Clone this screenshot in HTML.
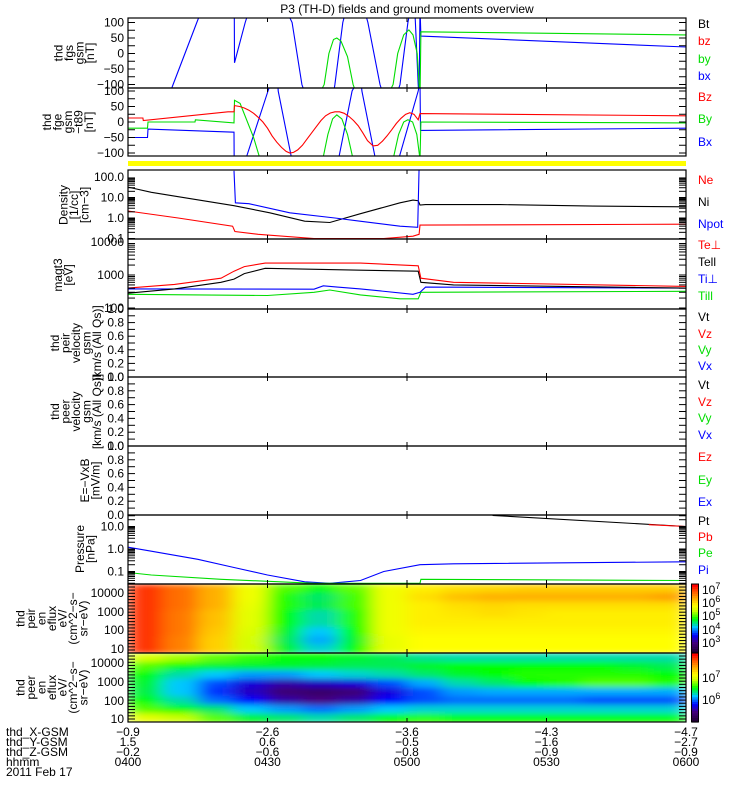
<!DOCTYPE html>
<html><head><meta charset="utf-8"><style>
body{margin:0;background:#fff;width:750px;height:800px;overflow:hidden}
svg{display:block}
text{font-family:"Liberation Sans",sans-serif;font-size:12px}
</style></head><body>
<svg id="chart" width="750" height="800" viewBox="0 0 750 800" xmlns="http://www.w3.org/2000/svg">
<defs>
<filter id="smooth" x="0" y="0" width="1" height="1"><feGaussianBlur stdDeviation="9 3" edgeMode="duplicate"/></filter>
</defs>
<text x="407" y="13" text-anchor="middle">P3 (TH-D) fields and ground moments overview</text>
</svg>
<script>
// ---------- DATA ----------
const fgsT=[0,4.7,9.7,14.8,18.7,22.8,22.9,25.2,28.4,30.5,35.3,37.4,40.9,43.4,44.5,46.2,48.8,51.6,54.2,56.3,58.5,60.2,61.5,62.4,62.6,62.8,63,120];
const fgsBx=[-500,-300,-100,100,250,350,-30,100,250,250,100,-100,-250,-200,-100,100,250,100,-100,-200,-100,100,200,-100,-150,150,56,21];
const fgsByT=[0,37,42.2,43.2,44.2,44.9,45.8,47.2,48.4,52,57,58,59.3,60.4,61.3,62.2,62.6,62.8,63,120];
const fgsBy=[-300,-250,-100,0,45,50,40,-10,-100,-250,-100,0,60,76,60,0,-100,-150,70,60];
const fgeBzT=[0,3.2,3.3,21.5,22.8,22.9,24,25,26,27,28,29,30,31,32,33,34,34.8,35.6,36.5,37.5,38.5,39.5,40.5,41.5,42.5,43.5,44.5,45.5,46.5,47.5,48.5,49.5,50.5,51.5,52.7,53.7,54.7,55.7,56.7,57.7,58.7,59.7,60.6,61.5,62.4,62.8,120];
const fgeBz=[13,13,5,33,33,53,50,45,38,28,15,0,-20,-45,-65,-82,-95,-100,-98,-90,-75,-55,-35,-15,5,20,29,33,33,28,18,5,-12,-35,-60,-77,-75,-62,-45,-25,-5,12,25,30,25,7,27,20];
const fgeByT=[0,4.2,4.3,14.4,14.5,22.8,22.9,24.1,27,29,41.9,43,44,44.9,46,47.2,48.4,57,58.2,59.3,60.2,61.2,62.1,62.8,63,120];
const fgeBy=[-20,-20,0,0,7,-3,70,60,-50,-150,-120,-40,10,23,10,-40,-120,-120,-40,0,7,0,-40,-120,0,-3];
const fgeBxT=[0,4.2,4.3,22.8,22.9,25.2,30.1,32,32.3,35.3,38,45.2,48.2,50,50.3,53.3,56,58.1,62.4,62.8,62.9,120];
const fgeBx=[-50,-50,-23,-33,-300,-125,100,180,100,-125,-250,-125,100,150,100,-125,-200,-125,100,130,-27,-20];
const niT=[0,5,10.8,22.8,30.5,38,43.4,49.9,58.5,61.3,62.4,62.8,64,80,100,120];
const niV=[32,18,11,4,1.8,0.7,0.6,1.6,5.5,7.5,7,4.3,4.5,4.5,3.8,3.5];
const neT=[0,10.8,22.5,23,28,40,55,61.3,62.6,62.8,120];
const neV=[2.2,1.0,0.4,0.22,0.16,0.1,0.1,0.13,0.16,0.45,0.5];
const npT=[22.8,23.1,26,34.8,44.5,49.9,58.5,62.3,62.6];
const npV=[200,5.5,5,1.8,1.0,0.7,0.4,0.35,300];
const teprT=[0,10,20,22.8,25,29.5,50,62.4,63,70,120];
const tepr=[400,520,800,1300,1800,2300,2300,1900,800,600,450];
const tepaT=[0,10,20,22.8,25,29.5,50,62.4,63,70,120];
const tepa=[280,380,600,750,1100,1600,1400,1300,600,500,400];
const tiprT=[0,40,42,45,50,61.3,62.8,64,120];
const tipr=[380,370,470,430,380,260,300,430,400];
const tipaT=[0,30,40,43.4,50,58.5,62.4,63,120];
const tipa=[260,240,300,350,250,190,190,300,320];
const piT=[0,5,15,22.8,30,38,43.4,50,55,62.8,70,120];
const piV=[1.2,0.8,0.35,0.15,0.07,0.035,0.03,0.04,0.1,0.2,0.22,0.27];
const peT=[0,5,20,40,62.8,63,120];
const peV=[0.09,0.07,0.045,0.03,0.03,0.045,0.04];
const ptT=[78.4,120];
const ptV=[31,10];
const pbT=[112,120];
const pbV=[12,10];
// spectrogram color levels (0..1), rows top(high energy) -> bottom
const ionGrid=[
[0.95,0.88,0.8,0.68,0.55,0.5,0.56,0.68,0.72,0.74,0.75,0.76,0.76,0.76,0.76,0.76],
[0.95,0.88,0.8,0.68,0.52,0.45,0.54,0.68,0.74,0.78,0.8,0.8,0.8,0.8,0.8,0.82],
[0.95,0.88,0.8,0.67,0.52,0.46,0.54,0.68,0.72,0.74,0.75,0.74,0.74,0.74,0.74,0.74],
[0.95,0.87,0.78,0.66,0.5,0.42,0.52,0.68,0.72,0.73,0.74,0.73,0.72,0.72,0.72,0.72],
[0.95,0.87,0.78,0.66,0.5,0.42,0.52,0.68,0.72,0.72,0.72,0.72,0.72,0.72,0.72,0.72],
[0.95,0.87,0.77,0.65,0.48,0.38,0.5,0.68,0.71,0.71,0.71,0.71,0.71,0.71,0.71,0.71],
[0.95,0.86,0.76,0.64,0.46,0.36,0.48,0.67,0.7,0.7,0.7,0.7,0.7,0.7,0.7,0.7],
[0.95,0.86,0.76,0.64,0.48,0.4,0.5,0.67,0.7,0.7,0.7,0.7,0.7,0.7,0.7,0.7]];
const eleGrid=[
[0.65,0.6,0.56,0.53,0.5,0.5,0.48,0.46,0.43,0.42,0.42,0.42,0.42,0.42,0.42,0.42],
[0.55,0.5,0.48,0.48,0.48,0.47,0.46,0.46,0.48,0.5,0.5,0.5,0.5,0.5,0.48,0.46],
[0.5,0.42,0.38,0.35,0.35,0.38,0.4,0.42,0.45,0.48,0.5,0.52,0.52,0.52,0.52,0.5],
[0.48,0.38,0.3,0.22,0.18,0.2,0.22,0.3,0.36,0.42,0.45,0.5,0.52,0.55,0.55,0.52],
[0.47,0.38,0.28,0.2,0.12,0.1,0.12,0.22,0.3,0.35,0.36,0.36,0.36,0.36,0.36,0.36],
[0.5,0.42,0.32,0.25,0.18,0.15,0.18,0.25,0.3,0.32,0.32,0.32,0.32,0.3,0.3,0.3],
[0.55,0.5,0.45,0.38,0.35,0.32,0.35,0.38,0.4,0.4,0.4,0.4,0.4,0.4,0.4,0.4],
[0.66,0.62,0.55,0.48,0.45,0.42,0.45,0.5,0.52,0.5,0.5,0.5,0.5,0.5,0.5,0.5]];
const xTickLabelsX=["-0.9","-2.6","-3.6","-4.3","-4.7"];
const xTickLabelsY=["1.5","0.6","-0.5","-1.6","-2.7"];
const xTickLabelsZ=["-0.2","-0.6","-0.8","-0.9","-0.9"];
const xTickLabelsT=["0400","0430","0500","0530","0600"];

// ---------- HELPERS ----------
const svg=document.getElementById('chart');
const NS='http://www.w3.org/2000/svg';
const X0=128,X1=686;
function xs(t){return X0+t/120*(X1-X0);}
function mk(tag,attrs,parent){const e=document.createElementNS(NS,tag);for(const k in attrs)e.setAttribute(k,attrs[k]);(parent||svg).appendChild(e);return e;}
function txt(s,x,y,anchor,color,parent){const e=mk('text',{x:x,y:y,'text-anchor':anchor||'start',fill:color||'#000'},parent);e.textContent=s;return e;}
const panels=[];
function panel(name,top,bot){
  const cp=mk('clipPath',{id:'clip-'+name});
  mk('rect',{x:X0,y:top,width:X1-X0,height:bot-top},cp);
  const g=mk('g',{'clip-path':'url(#clip-'+name+')'});
  
  
  panels.push([top,bot,name]);
  return g;
}
function line(g,ts,vs,yf,color,name){
  const pts=ts.map((t,i)=>xs(t).toFixed(1)+','+yf(vs[i]).toFixed(1)).join(' ');
  const p=mk('polyline',{points:pts,fill:'none',stroke:color,'stroke-width':1.1},g);
  
  
}
function ylab(s,y,name){const e=txt(s,124,y+4,'end');}
function rlab(s,y,color,name){const e=txt(s,698,y+4,'start',color);}
function title(lines,cx,cy,name){
  const g=mk('g',{transform:'translate('+cx+','+cy+') rotate(-90)'});
  
  
  const n=lines.length;
  lines.forEach((l,i)=>txt(l,0,(i-(n-1)/2)*10.5+4,'middle','#000',g));
}
function minorTicks(top,bot,ys){
  ys.forEach(y=>{mk('line',{x1:X0,x2:X0+7,y1:y,y2:y,stroke:'#000'});mk('line',{x1:X1-7,x2:X1,y1:y,y2:y,stroke:'#000'});});
}
function linTicks(top,bot,n){const a=[];for(let i=0;i<=n;i++)a.push(top+(bot-top)*i/n);return a;}
function logTicks(yf,lo,hi){const a=[];for(let d=lo;d<hi;d++)for(let k=1;k<10;k++){const y=yf(k*Math.pow(10,d));a.push(y);}return a;}

// colormap
const stops=[[0,[32,0,48]],[0.15,[70,0,130]],[0.25,[0,0,255]],[0.38,[0,200,255]],[0.5,[0,255,0]],[0.62,[200,255,0]],[0.7,[255,255,0]],[0.8,[255,176,0]],[0.9,[255,96,0]],[1,[255,0,0]]];
function cmap(v){v=Math.max(0,Math.min(1,v));for(let i=1;i<stops.length;i++){if(v<=stops[i][0]){const a=stops[i-1],b=stops[i];const f=(v-a[0])/(b[0]-a[0]);const c=a[1].map((q,j)=>Math.round(q+(b[1][j]-q)*f));return 'rgb('+c.join(',')+')';}}return 'rgb(255,0,0)';}

// ---------- PANEL 1: fgs ----------
let y1=v=>53.5-v*0.31;
let g=panel('fgs',18,88);
line(g,fgsT,fgsBx,y1,'#0000ff','fgs-bx-line');
line(g,fgsByT,fgsBy,y1,'#00dd00','fgs-by-line');
minorTicks(18,88,linTicks(22.5,84.5,8));
[100,50,0,-50,-100].forEach(v=>ylab(v<0?'\u2212'+(-v):''+v,y1(v),'fgs-ytick-'+v));
title(['thd','fgs','gsm','[nT]'],74,53,'fgs-y-axis-title');
rlab('Bt',24,'#000','legend-bt');rlab('bz',41,'#ff0000','legend-bz');rlab('by',59,'#00dd00','legend-by');rlab('bx',76,'#0000ff','legend-bx');

// ---------- PANEL 2: fge ----------
let y2=v=>122-v*0.31;
g=panel('fge',88,156);
line(g,fgeBxT,fgeBx,y2,'#0000ff','fge-bx-line');
line(g,fgeByT,fgeBy,y2,'#00dd00','fge-by-line');
line(g,fgeBzT,fgeBz,y2,'#ff0000','fge-bz-line');
minorTicks(88,156,linTicks(91,153,8));
[100,50,0,-50,-100].forEach(v=>ylab(v<0?'\u2212'+(-v):''+v,y2(v),'fge-ytick-'+v));
title(['thd','fge','gsm','\u2212t89','[nT]'],68,122,'fge-y-axis-title');
rlab('Bz',97,'#ff0000','legend-bz-fge');rlab('By',119,'#00dd00','legend-by-fge');rlab('Bx',142,'#0000ff','legend-bx-fge');

// yellow bar
let yb=mk('rect',{x:X0,y:161,width:X1-X0,height:5,fill:'#ffff00'});


// ---------- PANEL 3: density ----------
let y3=v=>218-20.5*Math.log10(v);
g=panel('density',170,239);
line(g,niT,niV,y3,'#000','ni-line');
line(g,neT,neV,y3,'#ff0000','ne-line');
line(g,npT,npV,y3,'#0000ff','npot-line');
minorTicks(170,239,logTicks(y3,-1,2).filter(y=>y>170));
[['100.0',100],['10.0',10],['1.0',1],['0.1',0.1]].forEach(a=>ylab(a[0],y3(a[1]),'density-ytick-'+a[0]));
title(['Density','[1/cc]','[cm\u22123]'],74,205,'density-y-axis-title');
rlab('Ne',180,'#ff0000','legend-ne');rlab('Ni',202,'#000','legend-ni');rlab('Npot',224,'#0000ff','legend-npot');

// ---------- PANEL 4: temperature ----------
let y4=v=>308-33*(Math.log10(v)-2);
g=panel('temp',239,309);
line(g,tipaT,tipa,y4,'#00dd00','ti-par-line');
line(g,tiprT,tipr,y4,'#0000ff','ti-perp-line');
line(g,tepaT,tepa,y4,'#000','te-par-line');
line(g,teprT,tepr,y4,'#ff0000','te-perp-line');
minorTicks(239,309,logTicks(y4,2,4).filter(y=>y>239));
[['10000',10000],['1000',1000],['100',100]].forEach(a=>ylab(a[0],y4(a[1]),'temp-ytick-'+a[0]));
title(['magt3','[eV]'],63,275,'temp-y-axis-title');
rlab('Te\u22a5',245,'#ff0000','legend-te-perp');rlab('Tell',262,'#000','legend-te-par');rlab('Ti\u22a5',279,'#0000ff','legend-ti-perp');rlab('Till',296,'#00dd00','legend-ti-par');

// ---------- empty linear panels ----------
function emptyPanel(name,top,bot,ttl,cx,labels){
  panel(name,top,bot);
  minorTicks(top,bot,linTicks(top,bot,10));
  ['1.0','0.8','0.6','0.4','0.2','0.0'].forEach((s,i)=>ylab(s,top+(bot-top)*i/5,name+'-ytick-'+s));
  title(ttl,cx,(top+bot)/2,name+'-y-axis-title');
  labels.forEach(l=>rlab(l[0],l[1],l[2],'legend-'+name+'-'+l[0].toLowerCase()));
}
emptyPanel('peir-velocity',309,377,['thd','peir','velocity','gsm','[km/s (All Qs)]'],76,[['Vt',317,'#000'],['Vz',334,'#ff0000'],['Vy',350,'#00dd00'],['Vx',366,'#0000ff']]);
emptyPanel('peer-velocity',377,446,['thd','peer','velocity','gsm','[km/s (All Qs)]'],76,[['Vt',385,'#000'],['Vz',402,'#ff0000'],['Vy',418,'#00dd00'],['Vx',435,'#0000ff']]);
emptyPanel('efield',446,515,['E=\u2212VxB','[mV/m]'],90,[['Ez',457,'#ff0000'],['Ey',480,'#00dd00'],['Ex',502,'#0000ff']]);

// ---------- PANEL 8: pressure ----------
let y8=v=>549-22.5*Math.log10(v);
g=panel('pressure',515,584);
line(g,piT,piV,y8,'#0000ff','pi-line');
line(g,peT,peV,y8,'#00dd00','pe-line');
line(g,ptT,ptV,y8,'#000','pt-line');
line(g,pbT,pbV,y8,'#ff0000','pb-line');
minorTicks(515,584,logTicks(y8,-2,2).filter(y=>y>515&&y<584));
[['10.0',10],['1.0',1],['0.1',0.1]].forEach(a=>ylab(a[0],y8(a[1]),'pressure-ytick-'+a[0]));
title(['Pressure','[nPa]'],85,549,'pressure-y-axis-title');
rlab('Pt',521,'#000','legend-pt');rlab('Pb',537,'#ff0000','legend-pb');rlab('Pe',553,'#00dd00','legend-pe');rlab('Pi',570,'#0000ff','legend-pi');

// ---------- spectrograms ----------
function spec(name,top,bot,grid,ticksY,ttl,cbLabels){
  const pg=panel(name,top,bot);
  const hg=mk('g',{filter:'url(#smooth)'},pg);
  const nr=grid.length,nc=grid[0].length,cw=(X1-X0)/nc,rh=(bot-top)/nr;
  grid.forEach((row,r)=>row.forEach((v,c)=>{
    const cell=mk('rect',{x:(X0+c*cw).toFixed(1),y:(top+r*rh).toFixed(1),width:(cw+1).toFixed(1),height:(rh+1).toFixed(1),fill:cmap(v)},hg);
    
    
  }));
  minorTicks(top,bot,linTicks(top+3,bot-3,20));
  ticksY.forEach(a=>ylab(a[0],a[1],name+'-ytick-'+a[0]));
  title(ttl,52,(top+bot)/2,name+'-y-axis-title');
  const cb=mk('g',{});
  
  const n=30;for(let i=0;i<n;i++){mk('rect',{x:692,y:bot-(i+1)*(bot-top)/n,width:6,height:(bot-top)/n+0.6,fill:cmap(i/(n-1))},cb);}
  mk('rect',{x:691.5,y:top,width:7,height:bot-top,fill:'none',stroke:'#000'},cb);
  cbLabels.forEach(l=>{const t=txt('10',702,l[1]+4,'start','#000',cb);const s=mk('tspan',{dy:-5,'font-size':'9'},t);s.textContent=l[0];});
}
spec('peir-eflux',584,653,ionGrid,[['10000',593],['1000',612],['100',630],['10',649]],['thd','peir','en','eflux','eV/','(cm^2\u2212s\u2212','sr\u2212eV)'],[['7',590],['6',603],['5',616],['4',630],['3',643]]);
spec('peer-eflux',653,722,eleGrid,[['10000',663],['1000',682],['100',701],['10',719]],['thd','peer','en','eflux','eV/','(cm^2\u2212s\u2212','sr\u2212eV)'],[['7',678],['6',700]]);

// ---------- frames & time ticks ----------
panels.forEach(p=>{
  const fr=mk('rect',{x:X0,y:p[0],width:X1-X0,height:p[1]-p[0],fill:'none',stroke:'#000','stroke-width':1.2});
  
  for(let k=1;k<4;k++){const x=xs(k*30);mk('line',{x1:x,x2:x,y1:p[0],y2:p[0]+4,stroke:'#000'});mk('line',{x1:x,x2:x,y1:p[1]-4,y2:p[1],stroke:'#000'});}
});

// ---------- bottom annotation ----------
const rows=[['thd_X-GSM',xTickLabelsX,732],['thd_Y-GSM',xTickLabelsY,742],['thd_Z-GSM',xTickLabelsZ,752],['hhmm',xTickLabelsT,762]];
rows.forEach(r=>{
  const h=txt(r[0],6,r[2]+4,'start');
  r[1].forEach((s,i)=>{const e=txt(s.replace('-','\u2212'),xs(i*30),r[2]+4,'middle');});
});
const d=txt('2011 Feb 17',6,776,'start');
</script>
</body></html>
